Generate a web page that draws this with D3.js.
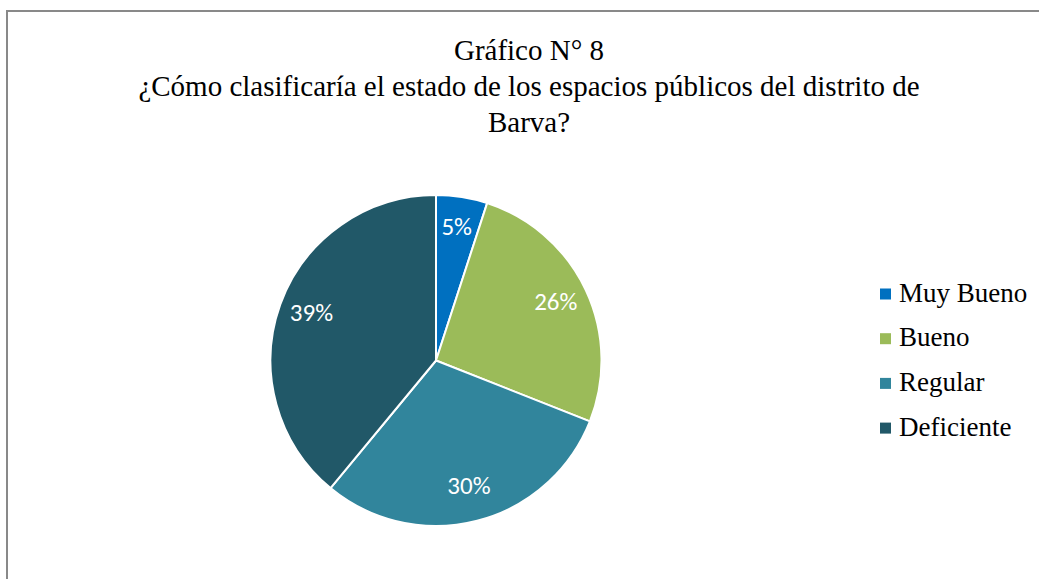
<!DOCTYPE html>
<html>
<head>
<meta charset="utf-8">
<script src="https://cdn.jsdelivr.net/npm/d3@7"></script>
<style>
  html, body { margin: 0; padding: 0; background: #fff; }
  svg { display: block; }
</style>
</head>
<body>
<svg id="chart" width="1039" height="579"></svg>
<script>
// Survey answers (percentages)
const categories = ["Muy Bueno", "Bueno", "Regular", "Deficiente"];
const values = [5, 26, 30, 39];
const colors = ["#0070C0", "#9BBB59", "#31859C", "#215868"];
const titleLines = [
  "Gráfico N° 8",
  "¿Cómo clasificaría el estado de los espacios públicos del distrito de",
  "Barva?"
];

const svg = d3.select("#chart");
const W = 1039, H = 579;

// chart frame (runs past the right and bottom edges)
svg.append("rect")
  .attr("x", 7).attr("y", 11)
  .attr("width", W + 20).attr("height", H + 20)
  .attr("fill", "#fff")
  .attr("stroke", "#898989")
  .attr("stroke-width", 2);

// title
const title = svg.append("g")
  .attr("font-family", "'Liberation Serif', 'Times New Roman', serif")
  .attr("font-size", 29)
  .attr("fill", "#000")
  .attr("text-anchor", "middle");
title.selectAll("text")
  .data(titleLines)
  .join("text")
  .attr("x", 529)
  .attr("y", (d, i) => 60 + i * 36)
  .text(d => d);

// pie
const cx = 436, cy = 360.5, R = 165.5;
const pie = d3.pie().sort(null).value(d => d.value);
const arcs = pie(categories.map((c, i) => ({ name: c, value: values[i], color: colors[i] })));
const arc = d3.arc().innerRadius(0).outerRadius(R);
const labelArc = d3.arc().innerRadius(R * 0.8).outerRadius(R * 0.8);

const g = svg.append("g").attr("transform", `translate(${cx},${cy})`);
g.selectAll("path")
  .data(arcs)
  .join("path")
  .attr("d", arc)
  .attr("fill", d => d.data.color)
  .attr("stroke", "#fff")
  .attr("stroke-width", 2)
  .attr("stroke-linejoin", "round");

g.selectAll("text.lbl")
  .data(arcs)
  .join("text")
  .attr("class", "lbl")
  .attr("transform", d => {
    const [x, y] = labelArc.centroid(d);
    return `translate(${x},${y - 3})`;
  })
  .attr("text-anchor", "middle")
  .attr("dy", "0.35em")
  .attr("font-family", "Carlito, Lato, 'Open Sans', sans-serif")
  .attr("font-size", 25)
  .attr("fill", "#fff")
  .text(d => d.data.value + "%");

// legend
const legend = svg.append("g").attr("transform", "translate(880,294)");
const item = legend.selectAll("g")
  .data(categories)
  .join("g")
  .attr("transform", (d, i) => `translate(0,${i * 44.7})`);
item.append("rect")
  .attr("x", 0).attr("y", -5.5)
  .attr("width", 11).attr("height", 11)
  .attr("fill", (d, i) => colors[i]);
item.append("text")
  .attr("x", 19)
  .attr("y", 7.5)
  .attr("font-family", "'Liberation Serif', 'Times New Roman', serif")
  .attr("font-size", 27)
  .attr("fill", "#000")
  .text(d => d);
</script>
</body>
</html>
